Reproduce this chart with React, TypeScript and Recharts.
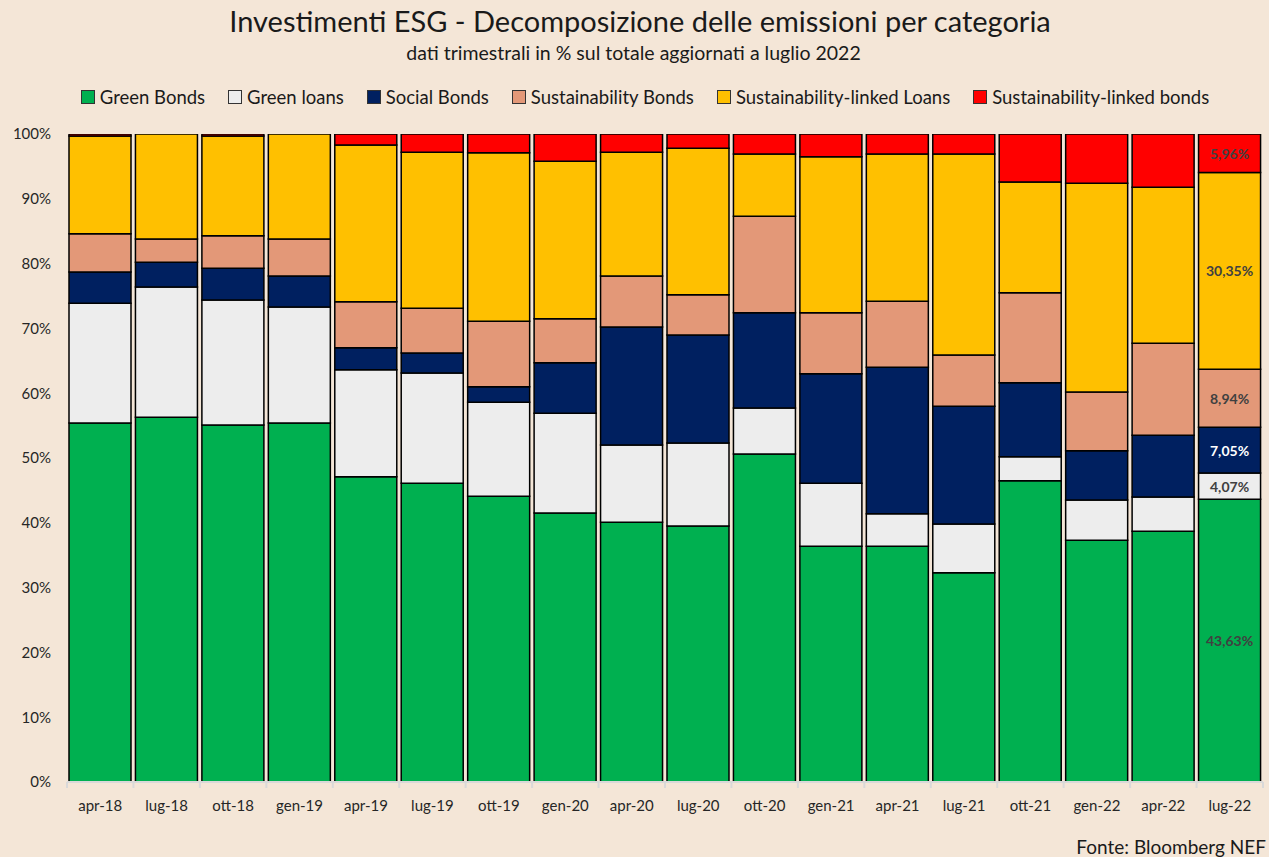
import React from 'react';
import { BarChart, Bar, XAxis, YAxis, LabelList } from 'recharts';

const categories = ['apr-18', 'lug-18', 'ott-18', 'gen-19', 'apr-19', 'lug-19', 'ott-19', 'gen-20', 'apr-20', 'lug-20', 'ott-20', 'gen-21', 'apr-21', 'lug-21', 'ott-21', 'gen-22', 'apr-22', 'lug-22'];
const greenBonds = [55.4, 56.3, 55.1, 55.4, 47.1, 46.1, 44.1, 41.5, 40.1, 39.5, 50.6, 36.4, 36.4, 32.3, 46.5, 37.3, 38.7, 43.63];
const greenLoans = [18.5, 20.1, 19.3, 17.9, 16.5, 17.0, 14.5, 15.4, 11.9, 12.8, 7.1, 9.7, 5.0, 7.5, 3.7, 6.2, 5.3, 4.07];
const socialBonds = [4.8, 3.8, 4.9, 4.8, 3.4, 3.1, 2.4, 7.8, 18.2, 16.7, 14.7, 16.9, 22.6, 18.2, 11.4, 7.6, 9.5, 7.05];
const sustainabilityBonds = [5.9, 3.6, 5.0, 5.7, 7.1, 6.9, 10.1, 6.8, 7.9, 6.2, 14.9, 9.4, 10.2, 7.9, 13.9, 9.1, 14.2, 8.94];
const sustainabilityLinkedLoans = [15.1, 16.2, 15.4, 16.2, 24.2, 24.1, 26.0, 24.3, 19.1, 22.6, 9.6, 24.1, 22.7, 31.0, 17.1, 32.2, 24.1, 30.35];
const sustainabilityLinkedBonds = [0.3, 0, 0.3, 0, 1.7, 2.8, 2.9, 4.2, 2.8, 2.2, 3.1, 3.5, 3.1, 3.1, 7.4, 7.6, 8.2, 5.96];
const yTicks = [0, 10, 20, 30, 40, 50, 60, 70, 80, 90, 100];

const seriesNames = ['Green Bonds', 'Green loans', 'Social Bonds', 'Sustainability Bonds', 'Sustainability-linked Loans', 'Sustainability-linked bonds'];
const seriesKeys = ['gb', 'gl', 'sb', 'sub', 'sll', 'slb'];
const seriesColors = ['#00B050', '#EDEDED', '#002060', '#E39878', '#FFC000', '#FF0000'];
const labelColors = ['#404040', '#404040', '#FFFFFF', '#404040', '#404040', '#404040'];

const lastCat = categories[categories.length - 1];

const data = categories.map((c, i) => ({
  cat: c,
  gb: greenBonds[i],
  gl: greenLoans[i],
  sb: socialBonds[i],
  sub: sustainabilityBonds[i],
  sll: sustainabilityLinkedLoans[i],
  slb: sustainabilityLinkedBonds[i],
}));

const FONT = 'Lato, "Open Sans", sans-serif';
const BG = '#F4E6D7';

const fmt = (v: number) => v.toFixed(2).replace('.', ',') + '%';

const makeLabel = (color: string) => (props: any) => {
  const { x, y, width, height, value } = props;
  if (value === null || value === undefined || value === '') return null;
  return (
    <text
      x={Number(x) + Number(width) / 2}
      y={Number(y) + Number(height) / 2}
      textAnchor="middle"
      dominantBaseline="central"
      fill={color}
      fontWeight="bold"
      fontSize={14}
      fontFamily={FONT}
    >
      {fmt(Number(value))}
    </text>
  );
};

const XTick = (props: any) => {
  const { x, y, payload, index } = props;
  const off = payload && payload.offset ? payload.offset : 0;
  const last = index === categories.length - 1;
  return (
    <g>
      <line x1={x - off} x2={x - off} y1={y} y2={y + 6} stroke="#D9D9D9" strokeWidth={2} />
      {last && <line x1={x + off} x2={x + off} y1={y} y2={y + 6} stroke="#D9D9D9" strokeWidth={2} />}
      <text x={x} y={y + 23} textAnchor="middle" dominantBaseline="central" fill="#262626" fontSize={15} fontFamily={FONT}>
        {payload.value}
      </text>
    </g>
  );
};

export default function App() {
  return (
    <div style={{ position: 'absolute', left: 0, top: 0, width: 1269, height: 857, background: BG, fontFamily: FONT, overflow: 'hidden' }}>
      <div style={{ position: 'absolute', left: 0, width: 1280, top: 3, textAlign: 'center', fontSize: 29, color: '#1a1a1a', lineHeight: '36px' }}>
        Investimenti ESG - Decomposizione delle emissioni per categoria
      </div>
      <div style={{ position: 'absolute', left: 0, width: 1267, top: 42, textAlign: 'center', fontSize: 19.5, color: '#1a1a1a', lineHeight: '22px' }}>
        dati trimestrali in % sul totale aggiornati a luglio 2022
      </div>
      <div style={{ position: 'absolute', left: 0, width: 1313, top: 84, display: 'flex', justifyContent: 'center', fontSize: 18.5, color: '#1a1a1a', lineHeight: '26px' }}>
        {seriesNames.map((n, i) => (
          <div key={n} style={{ display: 'flex', alignItems: 'center', marginRight: 23 }}>
            <span style={{ display: 'inline-block', width: 12, height: 12, background: seriesColors[i], border: '1px solid #333', marginRight: 5 }} />
            <span>{n}</span>
          </div>
        ))}
      </div>
      <div style={{ position: 'absolute', left: 0, top: 0 }}>
        <BarChart width={1269} height={857} data={data} margin={{ top: 134, right: 6, bottom: 45, left: 12 }} barCategoryGap={2}>
          <XAxis dataKey="cat" height={30} tick={<XTick />} tickLine={false} tickSize={0} tickMargin={0} axisLine={{ stroke: '#D9D9D9', strokeWidth: 2 }} interval={0} />
          <YAxis
            width={55}
            domain={[0, 100]}
            ticks={yTicks}
            tickFormatter={(v: number) => v + '%'}
            axisLine={false}
            tickLine={false}
            tickMargin={10}
            tick={{ fill: '#262626', fontSize: 15, fontFamily: FONT }}
            allowDataOverflow
          />
          {seriesKeys.map((k, i) => (
            <Bar key={k} dataKey={k} stackId="a" fill={seriesColors[i]} stroke="#000" strokeWidth={1.5} isAnimationActive={false}>
              <LabelList
                dataKey={(d: any) => (d.cat === lastCat ? d[k] : null)}
                content={makeLabel(labelColors[i])}
              />
            </Bar>
          ))}
        </BarChart>
      </div>
      <div style={{ position: 'absolute', right: 3, top: 835, fontSize: 19, color: '#1a1a1a', lineHeight: '24px' }}>
        Fonte: Bloomberg NEF
      </div>
    </div>
  );
}
